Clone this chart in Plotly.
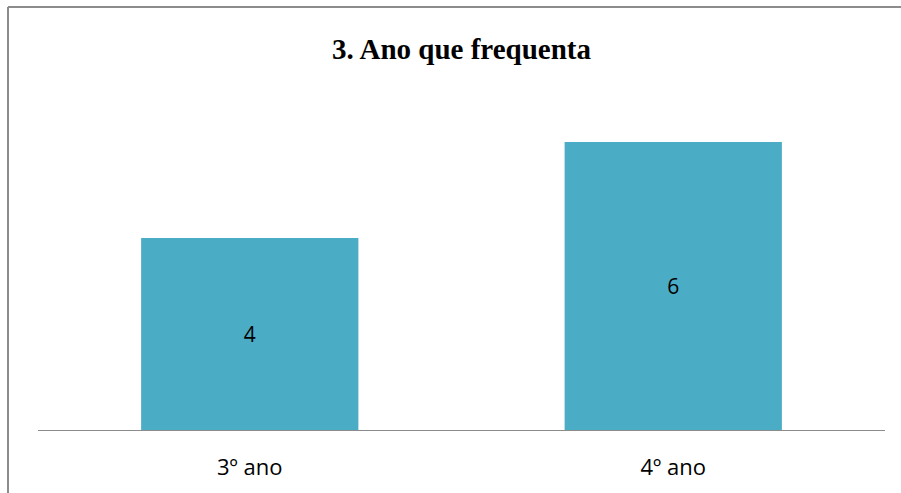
import plotly.graph_objects as go

categories = ["3º ano", "4º ano"]
values = [4, 6]

L, R, T, B = 38, 16, 94, 63
PW, PH = 901 - L - R, 493 - T - B

fig = go.Figure()
fig.add_trace(go.Bar(
    x=categories, y=values,
    marker=dict(color="#4BACC6", line=dict(width=0)),
    text=[str(v) for v in values],
    textposition="inside", insidetextanchor="middle",
    textfont=dict(family="Open Sans, sans-serif", size=21, color="#000000"),
    showlegend=False,
    hoverinfo="skip",
))

border = dict(color="#8c8c8c", width=2)
fig.update_layout(
    width=901, height=493,
    margin=dict(l=L, r=R, t=T, b=B),
    paper_bgcolor="white", plot_bgcolor="white",
    bargap=0.487,
    title=dict(text="<b>3. Ano que frequenta</b>", x=0.5, xref="paper", y=1 - 49/493, yanchor="middle",
               font=dict(family="Liberation Serif, Times New Roman, serif", size=29, color="#000000")),
    xaxis=dict(showline=True, linecolor="#8c8c8c", linewidth=1, showgrid=False, ticks="",
               tickfont=dict(family="Open Sans, sans-serif", size=22, color="#000000"),
               ticklabelstandoff=18),
    yaxis=dict(range=[0, 7], visible=False, showgrid=False, zeroline=False),
    shapes=[
        dict(type="line", xref="paper", yref="paper",
             x0=(8 - L) / PW, x1=(901 - L) / PW, y0=1 + (T - 7) / PH, y1=1 + (T - 7) / PH, line=border),
        dict(type="line", xref="paper", yref="paper",
             x0=(8 - L) / PW, x1=(8 - L) / PW, y0=1 + (T - 7) / PH, y1=-(B) / PH, line=border),
    ],
)

fig.write_html("out.html", config={"displayModeBar": False},
               post_script="document.body.style.margin='0';document.body.style.overflow='hidden';")
